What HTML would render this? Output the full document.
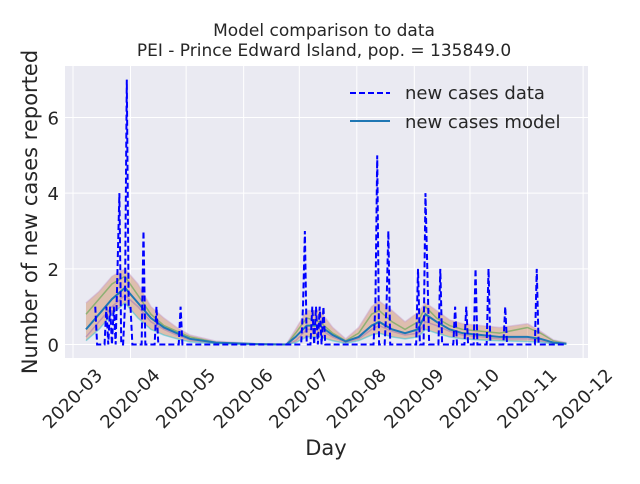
<!DOCTYPE html>
<html><head><meta charset="utf-8"><style>
body{margin:0;background:#fff;font-family:"DejaVu Sans","Liberation Sans",sans-serif}
</style></head><body>
<svg width="640" height="480" xmlns="http://www.w3.org/2000/svg" font-family="DejaVu Sans, Liberation Sans, sans-serif">
<g id="root"></g>
</svg>
<script>
const xTickLabels=["2020-03","2020-04","2020-05","2020-06","2020-07","2020-08","2020-09","2020-10","2020-11","2020-12"];
const xTickDays=[0,31,61,92,122,153,184,214,245,275];
const yTicks=[0,2,4,6];
const dataStart=12, dataEnd=266;
const spikeDays=[12,18,20,22,24,25,28,29,30,31,38,45,58,124,125,129,131,133,135,163,164,169,170,186,190,191,198,206,212,217,224,233,250];
const spikeVals=[1,1,1,1,2,4,1,7,1,1,3,1,1,1,3,1,1,1,1,1,5,1,3,2,4,2,2,1,1,2,2,1,2];
const modelDays=[7,14,21,28,35,42,49,56,63,77,100,115,120,126,133,140,147,154,161,165,172,179,186,190,196,203,210,220,230,245,252,259,266];
const modelMean=[0.4,0.8,1.2,1.5,1.1,0.7,0.45,0.3,0.15,0.05,0.01,0,0.2,0.5,0.5,0.25,0.08,0.2,0.5,0.6,0.4,0.3,0.4,0.8,0.6,0.4,0.3,0.25,0.2,0.2,0.15,0.05,0.02];
const modelUpper=[1.1,1.4,1.8,2.0,1.6,1.0,0.7,0.45,0.25,0.09,0.02,0.01,0.4,0.9,0.9,0.45,0.15,0.45,1.0,1.15,0.9,0.6,0.85,1.1,0.9,0.65,0.55,0.5,0.45,0.55,0.35,0.12,0.05];
const modelLower=[0.1,0.4,0.8,1.1,0.7,0.4,0.25,0.15,0.07,0.02,0,0,0.05,0.2,0.2,0.1,0.03,0.1,0.25,0.3,0.2,0.15,0.2,0.4,0.3,0.2,0.15,0.12,0.1,0.08,0.06,0.02,0.01];
const ens1=[0.8,1.2,1.6,1.8,1.3,0.8,0.5,0.35,0.2,0.06,0.01,0,0.3,0.7,0.6,0.3,0.1,0.3,0.8,0.9,0.6,0.4,0.6,1.0,0.7,0.5,0.4,0.35,0.3,0.45,0.3,0.1,0.03];
const ens2=[0.2,0.6,1.0,1.3,1.0,0.6,0.4,0.25,0.12,0.04,0.01,0,0.1,0.4,0.4,0.2,0.06,0.15,0.4,0.5,0.35,0.25,0.3,0.6,0.5,0.35,0.25,0.2,0.15,0.15,0.1,0.04,0.02];

const L=65,R=588,T=66,B=358;
const X=d=>73+d*1.855, Y=v=>344.5-v*37.83;
const ns="http://www.w3.org/2000/svg", root=document.getElementById('root');
function mk(t,a,p){const e=document.createElementNS(ns,t);for(const k in a)e.setAttribute(k,a[k]);(p||root).appendChild(e);return e;}
let e=mk('rect',{x:L,y:T,width:R-L,height:B-T,fill:'#eaeaf2'});

xTickDays.forEach((d,i)=>{
 let g=mk('line',{x1:X(d),x2:X(d),y1:T,y2:B,stroke:'#fff','stroke-width':1});
 
 let t=mk('text',{x:0,y:0,'font-size':18,fill:'#262626','text-anchor':'middle','dominant-baseline':'central',transform:`translate(${X(d)},${B+41}) rotate(-45)`});
 t.textContent=xTickLabels[i];
 
});
yTicks.forEach(v=>{
 let g=mk('line',{x1:L,x2:R,y1:Y(v),y2:Y(v),stroke:'#fff','stroke-width':1});
 
 let t=mk('text',{x:L-6,y:Y(v)+7,'font-size':18,fill:'#262626','text-anchor':'end'});
 t.textContent=v;
 
});
let bp=modelDays.map((d,i)=>`${X(d)},${Y(modelUpper[i])}`).concat(modelDays.map((d,i)=>`${X(d)},${Y(modelLower[i])}`).reverse());
e=mk('polygon',{points:bp.join(' '),fill:'#d08a5a','fill-opacity':0.45});

[[ens1,'#2ca02c'],[ens2,'#9467bd'],[modelUpper,'#c7a0d0'],[modelLower,'#17becf']].forEach(([s,c])=>{
 let p=mk('polyline',{points:modelDays.map((d,i)=>`${X(d)},${Y(s[i])}`).join(' '),fill:'none',stroke:c,'stroke-opacity':0.45,'stroke-width':1.5});
 
});
e=mk('polyline',{points:modelDays.map((d,i)=>`${X(d)},${Y(modelMean[i])}`).join(' '),fill:'none',stroke:'#1f77b4','stroke-width':2});

let pts=[];
for(let d=dataStart;d<=dataEnd;d++){const k=spikeDays.indexOf(d);pts.push(`${X(d)},${Y(k>=0?spikeVals[k]:0)}`);}
e=mk('polyline',{points:pts.join(' '),fill:'none',stroke:'#0000ff','stroke-width':2,'stroke-dasharray':'6,3'});

let lg=mk('g',{});

mk('line',{x1:350,x2:390,y1:93,y2:93,stroke:'#0000ff','stroke-width':2,'stroke-dasharray':'6,3'},lg);
let t1=mk('text',{x:405,y:99,'font-size':18,fill:'#262626'},lg);t1.textContent='new cases data';
mk('line',{x1:350,x2:390,y1:121,y2:121,stroke:'#1f77b4','stroke-width':2},lg);
let t2=mk('text',{x:405,y:128,'font-size':18,fill:'#262626'},lg);t2.textContent='new cases model';
let tt=mk('text',{x:324,y:36,'font-size':17,fill:'#262626','text-anchor':'middle'});tt.textContent='Model comparison to data';

let ts=mk('text',{x:324,y:56,'font-size':17,fill:'#262626','text-anchor':'middle'});ts.textContent='PEI - Prince Edward Island, pop. = 135849.0';

let xl=mk('text',{x:326,y:455,'font-size':21,fill:'#262626','text-anchor':'middle'});xl.textContent='Day';

let yl=mk('text',{x:0,y:0,'font-size':21,fill:'#262626','text-anchor':'middle',transform:'translate(37,212) rotate(-90)'});yl.textContent='Number of new cases reported';

</script>
</body></html>
